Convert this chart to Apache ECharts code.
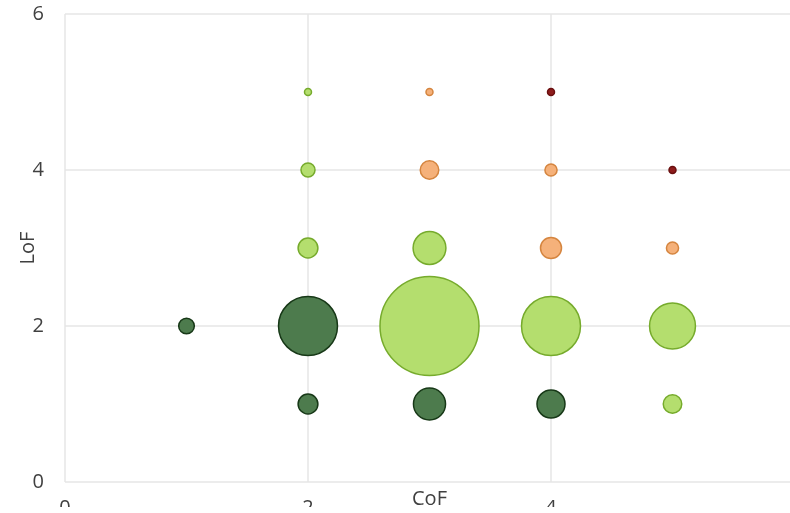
<!DOCTYPE html>
<html>
<head>
<meta charset="utf-8">
<script src="https://cdn.jsdelivr.net/npm/echarts@6/dist/echarts.min.js"></script>
<style>
  html, body { margin: 0; padding: 0; background: #fff; }
  #chart { width: 790px; height: 507px; }
</style>
</head>
<body>
<div id="chart"></div>
<script>
// Risk matrix bubbles: CoF (x), LoF (y), count (bubble area)
const lowCoF    = [1, 2, 2, 3, 4];
const lowLoF    = [2, 2, 1, 1, 1];
const lowCount  = [5, 71, 8, 21, 16];

const medCoF    = [2, 2, 2, 3, 3, 4, 5, 5];
const medLoF    = [3, 4, 5, 2, 3, 2, 2, 1];
const medCount  = [8, 4, 1, 200, 22, 71, 43, 7];

const highCoF   = [3, 3, 4, 4, 5];
const highLoF   = [4, 5, 3, 4, 3];
const highCount = [7, 1, 9, 3, 3];

const extCoF    = [4, 5];
const extLoF    = [5, 4];
const extCount  = [1, 1];

const xTicks = [0, 2, 4, 6];
const yTicks = [0, 2, 4, 6];

function points(xs, ys, ns) {
  return xs.map((x, i) => [x, ys[i], ns[i]]);
}

const bubbleSize = v => 7 * Math.sqrt(v[2]);

function bubbleSeries(name, data, fill, stroke) {
  return {
    name: name,
    type: 'scatter',
    data: data,
    symbolSize: bubbleSize,
    itemStyle: { color: fill, borderColor: stroke, borderWidth: 1.5, opacity: 1 },
    emphasis: { disabled: true }
  };
}

const font = '"Open Sans", "Noto Sans", sans-serif';
const textColor = '#404040';
const chart = echarts.init(document.getElementById('chart'));
chart.setOption({
  animation: false,
  backgroundColor: '#ffffff',
  grid: { left: 65, top: 14, right: -4, bottom: 25, containLabel: false, outerBoundsMode: 'none' },
  xAxis: {
    type: 'value',
    min: xTicks[0], max: xTicks[xTicks.length - 1], interval: 2,
    name: 'CoF', nameLocation: 'middle', nameGap: 7, nameMoveOverlap: false,
    nameTextStyle: { color: textColor, fontSize: 20, fontFamily: font },
    axisLine: { show: false },
    axisTick: { show: false },
    axisLabel: { color: textColor, fontSize: 20, fontFamily: font, margin: 16, showMaxLabel: false },
    splitLine: { show: true, lineStyle: { color: '#e6e6e6', width: 1.5 } }
  },
  yAxis: {
    type: 'value',
    min: yTicks[0], max: yTicks[yTicks.length - 1], interval: 2,
    name: 'LoF', nameLocation: 'middle', nameGap: 27, nameMoveOverlap: false,
    nameTextStyle: { color: textColor, fontSize: 20, fontFamily: font },
    axisLine: { show: false },
    axisTick: { show: false },
    axisLabel: { color: textColor, fontSize: 20, fontFamily: font, margin: 21 },
    splitLine: { show: true, lineStyle: { color: '#e6e6e6', width: 1.5 } }
  },
  series: [
    bubbleSeries('Low', points(lowCoF, lowLoF, lowCount), '#4d7b4d', '#173817'),
    bubbleSeries('Medium', points(medCoF, medLoF, medCount), '#b4de6e', '#76ab2c'),
    bubbleSeries('High', points(highCoF, highLoF, highCount), '#f5b17a', '#d5853f'),
    bubbleSeries('Extreme', points(extCoF, extLoF, extCount), '#8e1c1c', '#6a0f0f')
  ]
});
</script>
</body>
</html>
